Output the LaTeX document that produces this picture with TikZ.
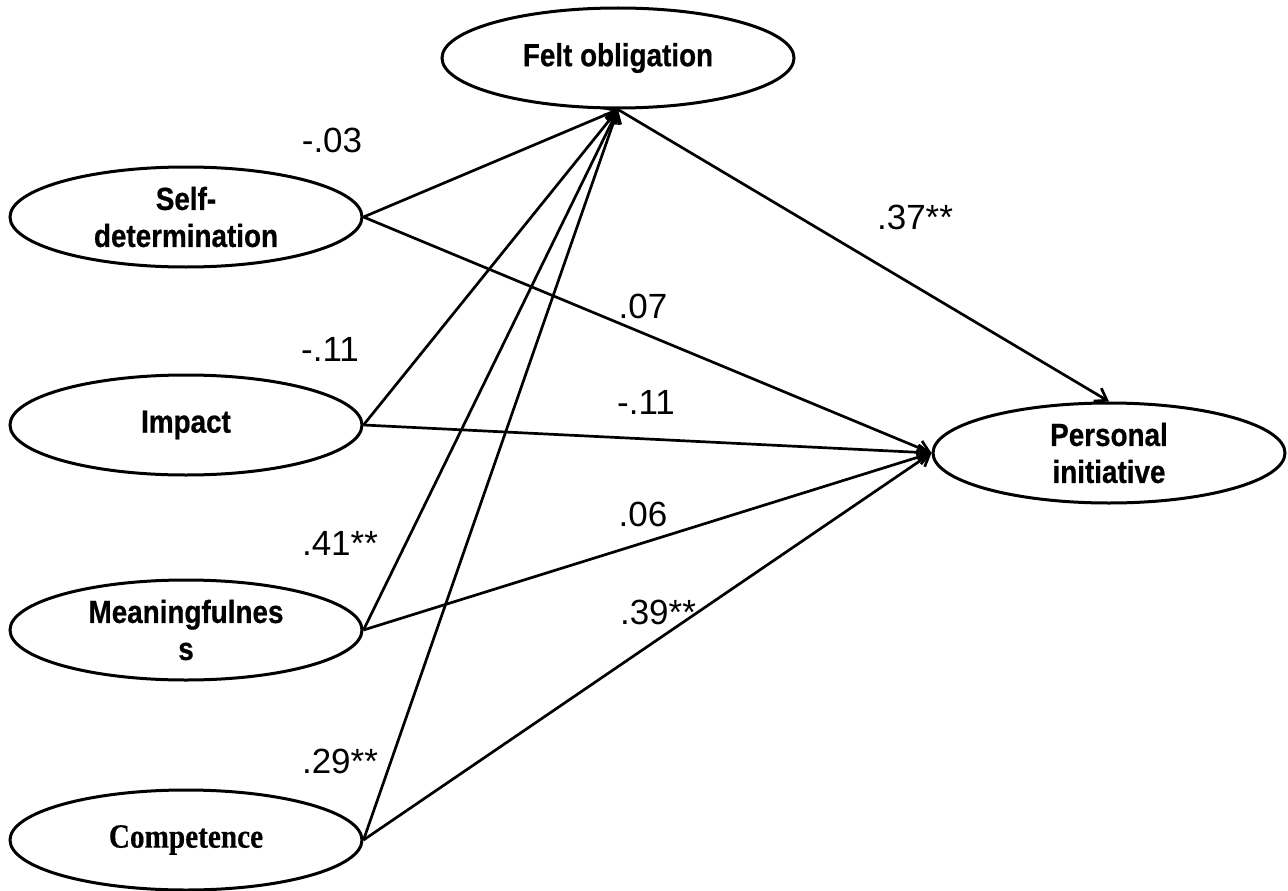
\documentclass[tikz,border=0pt]{standalone}
\usepackage{fontspec}
\setmainfont{Liberation Sans}
\newfontfamily\latentfont[FakeStretch=0.87,FakeBold=0.6]{Liberation Sans}
\newfontfamily\latentserif[FakeStretch=0.86,FakeBold=0.4]{Liberation Serif}
\usetikzlibrary{arrows.meta,shapes.geometric}
\tikzset{
  latent/.style={ellipse,draw,line width=3pt,minimum width=352pt,minimum height=100pt,
    inner sep=0pt,align=center,font=\latentfont\fontsize{32}{37}\selectfont\bfseries},
  coef/.style={font=\fontsize{35}{40}\selectfont},
  effect/.style={line width=2.7pt,-{Straight Barb[length=11pt,width=15pt]}}
}
\begin{document}
\begin{tikzpicture}[x=1pt,y=-1pt]
      \useasboundingbox (0,0) rectangle (1288,891);
      \draw
        (618,58) node[latent] (felt){Felt obligation}
        (186,217) node[latent] (self){Self-\\determination}
        (186,425) node[latent] (impact){Impact}
        (186,630) node[latent] (meaning){Meaningfulnes\\s}
        (186,840) node[latent,font=\latentserif\fontsize{34}{37}\selectfont\bfseries] (comp){Competence}
        (1109,453) node[latent] (pers){Personal\\initiative};
      \draw
        (332,140) node[coef] (c03){-.03}
        (915,217) node[coef] (c37){.37**}
        (643,306) node[coef] (c07){.07}
        (330,349) node[coef] (c11a){-.11}
        (646,402) node[coef] (c11b){-.11}
        (340,543) node[coef] (c41){.41**}
        (643,514) node[coef] (c06){.06}
        (658,612) node[coef] (c39){.39**}
        (340,761) node[coef] (c29){.29**};
      \begin{scope}[effect]
        \draw (self.east) to (felt.south);
        \draw (impact.east) to (felt.south);
        \draw (meaning.east) to (felt.south);
        \draw (comp.east) to (felt.south);
        \draw (self.east) to (pers.west);
        \draw (impact.east) to (pers.west);
        \draw (meaning.east) to (pers.west);
        \draw (comp.east) to (pers.west);
        \draw (felt.south) to (pers.north);
      \end{scope}
    \end{tikzpicture}
\end{document}
